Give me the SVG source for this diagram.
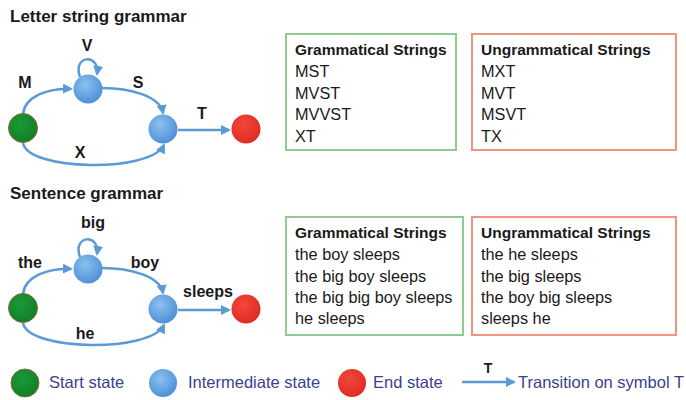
<svg xmlns="http://www.w3.org/2000/svg" width="686" height="400" viewBox="0 0 686 400">
<defs>
<radialGradient id="gBlue" cx="0.4" cy="0.35" r="0.7">
<stop offset="0" stop-color="#8cc0ee"/>
<stop offset="1" stop-color="#4a8ed6"/>
</radialGradient>
<radialGradient id="gRed" cx="0.4" cy="0.35" r="0.7">
<stop offset="0" stop-color="#f0483a"/>
<stop offset="1" stop-color="#e02a22"/>
</radialGradient>
<radialGradient id="gGreen" cx="0.4" cy="0.35" r="0.7">
<stop offset="0" stop-color="#1a9a36"/>
<stop offset="1" stop-color="#117e28"/>
</radialGradient>
<marker id="arr" viewBox="0 0 10 10" refX="8" refY="5" markerWidth="4" markerHeight="4" orient="auto" markerUnits="strokeWidth">
<path d="M0,0 L10,5 L0,10 z" fill="#5b9bd5"/>
</marker>
</defs>
<style>
.edge{fill:none;stroke:#5b9bd5;stroke-width:2.5;marker-end:url(#arr)}
.start{fill:url(#gGreen);stroke:#8a6a3a;stroke-width:1}
.mid{fill:url(#gBlue);stroke:none}
.end{fill:url(#gRed);stroke:none}
.title{font-family:"Liberation Sans",Arial,sans-serif;font-weight:bold;font-size:17px;fill:#1a1a1a}
.lbl{font-family:"Liberation Sans",Arial,sans-serif;font-weight:bold;font-size:16px;fill:#1a1a1a;text-anchor:middle}
.head{font-family:"Liberation Sans",Arial,sans-serif;font-weight:bold;font-size:15.5px;fill:#1a1a1a}
.item{font-family:"Liberation Sans",Arial,sans-serif;font-size:16.3px;fill:#1a1a1a}
.gbox{fill:#ffffff;stroke:#8fca8f;stroke-width:2}
.rbox{fill:#ffffff;stroke:#f09482;stroke-width:2}
.leg{font-family:"Liberation Sans",Arial,sans-serif;font-size:16.5px;fill:#3b3f8e}
</style>
<rect width="686" height="400" fill="#ffffff"/>

<text class="title" x="10" y="22">Letter string grammar</text>
<text class="title" x="10" y="199">Sentence grammar</text>

<g id="connectors">
<path class="edge" d="M23,114 C25,96 48,88 71,89"/>
<path class="edge" d="M102,88 C130,88 160,96 163,113"/>
<path class="edge" d="M80,77 C72,55 100,53 97,74"/>
<path class="edge" d="M23,143 C28,171 150,173 164,145"/>
<path class="edge" d="M178,130 L229,130"/>

<path class="edge" d="M23,294 C25,276 48,268 71,269"/>
<path class="edge" d="M102,268 C130,268 160,276 163,293"/>
<path class="edge" d="M80,257 C72,235 100,233 97,254"/>
<path class="edge" d="M23,323 C28,351 150,353 164,325"/>
<path class="edge" d="M178,310 L229,310"/>

<path class="edge" d="M462,382 L514,382"/>
</g>

<g id="letter-start"><circle class="start" cx="23" cy="128" r="14.5"/></g>
<g id="letter-mid1"><circle class="mid" cx="88" cy="89" r="14.5"/></g>
<g id="letter-mid2"><circle class="mid" cx="163" cy="129" r="14.5"/></g>
<g id="letter-end"><circle class="end" cx="246" cy="129" r="14.5"/></g>

<g id="letter-labels">
<text class="lbl" x="87" y="51">V</text>
<text class="lbl" x="25" y="88">M</text>
<text class="lbl" x="138" y="88">S</text>
<text class="lbl" x="202" y="119">T</text>
<text class="lbl" x="80" y="158">X</text>
</g>

<g id="sent-start"><circle class="start" cx="23" cy="308" r="14.5"/></g>
<g id="sent-mid1"><circle class="mid" cx="88" cy="269" r="14.5"/></g>
<g id="sent-mid2"><circle class="mid" cx="163" cy="309" r="14.5"/></g>
<g id="sent-end"><circle class="end" cx="246" cy="309" r="14.5"/></g>

<g id="sent-labels">
<text class="lbl" x="93" y="228">big</text>
<text class="lbl" x="30" y="268">the</text>
<text class="lbl" x="145" y="268">boy</text>
<text class="lbl" x="208" y="297">sleeps</text>
<text class="lbl" x="85" y="339">he</text>
</g>

<g id="letter-grammatical">
<rect class="gbox" x="286" y="34" width="170" height="116"/>
<text class="head" x="295" y="55">Grammatical Strings</text>
<text class="item" x="295" y="77">MST</text>
<text class="item" x="295" y="99">MVST</text>
<text class="item" x="295" y="120">MVVST</text>
<text class="item" x="295" y="142">XT</text>
</g>
<g id="letter-ungrammatical">
<rect class="rbox" x="472" y="34" width="204" height="116"/>
<text class="head" x="481" y="55">Ungrammatical Strings</text>
<text class="item" x="481" y="77">MXT</text>
<text class="item" x="481" y="99">MVT</text>
<text class="item" x="481" y="120">MSVT</text>
<text class="item" x="481" y="142">TX</text>
</g>

<g id="sent-grammatical">
<rect class="gbox" x="286" y="217" width="177" height="118"/>
<text class="head" x="295" y="238">Grammatical Strings</text>
<text class="item" x="295" y="260">the boy sleeps</text>
<text class="item" x="295" y="282">the big boy sleeps</text>
<text class="item" x="295" y="303">the big big boy sleeps</text>
<text class="item" x="295" y="324">he sleeps</text>
</g>
<g id="sent-ungrammatical">
<rect class="rbox" x="472" y="217" width="204" height="118"/>
<text class="head" x="481" y="238">Ungrammatical Strings</text>
<text class="item" x="481" y="260">the he sleeps</text>
<text class="item" x="481" y="282">the big sleeps</text>
<text class="item" x="481" y="303">the boy big sleeps</text>
<text class="item" x="481" y="324">sleeps he</text>
</g>

<g id="legend">
<circle class="start" cx="25" cy="383" r="14"/>
<text class="leg" x="49" y="388">Start state</text>
<circle class="mid" cx="163" cy="383" r="14"/>
<text class="leg" x="188" y="388">Intermediate state</text>
<circle class="end" cx="352" cy="383" r="14"/>
<text class="leg" x="373" y="388">End state</text>
<text class="lbl" x="488" y="373" style="font-size:14px">T</text>
<text class="leg" x="518" y="388">Transition on symbol T</text>
</g>
</svg>
